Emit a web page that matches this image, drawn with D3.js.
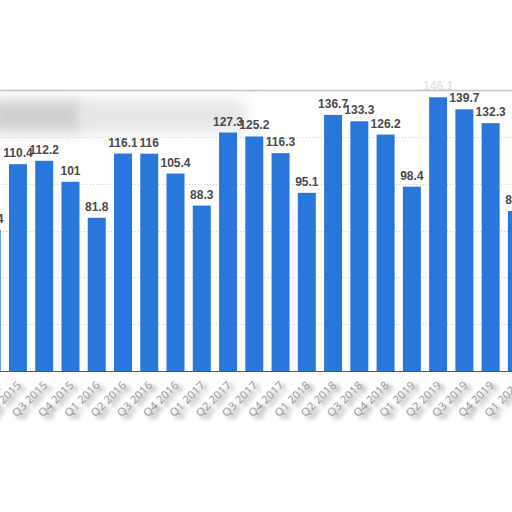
<!DOCTYPE html>
<html>
<head>
<meta charset="utf-8">
<script src="https://cdn.jsdelivr.net/npm/d3@7"></script>
<style>
  body { margin: 0; background: #fff; }
  svg { display: block; }
</style>
</head>
<body>
<svg id="chart" width="512" height="512"></svg>
<script>
// quarters and values (billions)
var quarters = ["Q1 2015", "Q2 2015", "Q3 2015", "Q4 2015",
                "Q1 2016", "Q2 2016", "Q3 2016", "Q4 2016",
                "Q1 2017", "Q2 2017", "Q3 2017", "Q4 2017",
                "Q1 2018", "Q2 2018", "Q3 2018", "Q4 2018",
                "Q1 2019", "Q2 2019", "Q3 2019", "Q4 2019",
                "Q1 2020"];
var values = [75.4, 110.4, 112.2, 101,
              81.8, 116.1, 116, 105.4,
              88.3, 127.3, 125.2, 116.3,
              95.1, 136.7, 133.3, 126.2,
              98.4, 146.1, 139.7, 132.3,
              85.4];
var yTicks = [25, 50, 75, 100, 125];

var svg = d3.select("#chart");
var defs = svg.append("defs");

var shadow = defs.append("filter").attr("id", "shadow")
    .attr("x", "-20%").attr("y", "-50%").attr("width", "140%").attr("height", "250%");
shadow.append("feGaussianBlur").attr("in", "SourceAlpha").attr("stdDeviation", 2.2).attr("result", "b");
shadow.append("feOffset").attr("in", "b").attr("dx", 1).attr("dy", 5).attr("result", "o");
shadow.append("feComponentTransfer").attr("in", "o").attr("result", "s")
    .append("feFuncA").attr("type", "linear").attr("slope", 0.6);
var merge = shadow.append("feMerge");
merge.append("feMergeNode").attr("in", "s");
merge.append("feMergeNode").attr("in", "SourceGraphic");

var blur = defs.append("filter").attr("id", "blur")
    .attr("x", "-30%").attr("y", "-60%").attr("width", "160%").attr("height", "220%");
blur.append("feGaussianBlur").attr("stdDeviation", 7);

var plotTop = 90, plotBottom = 371;
var step = 26.26;
var x0 = -17.3 - (step - 18) / 2;

var x = d3.scaleBand()
    .domain(quarters)
    .range([x0, x0 + step * quarters.length])
    .paddingInner(0.315)
    .paddingOuter(0.1575);

var y = d3.scaleLinear()
    .domain([0, 150])
    .range([plotBottom, plotTop]);

// grid
svg.append("g")
  .selectAll("line")
  .data(yTicks)
  .join("line")
    .attr("x1", 0).attr("x2", 512)
    .attr("y1", function(d) { return Math.round(y(d)) + 0.5; })
    .attr("y2", function(d) { return Math.round(y(d)) + 0.5; })
    .attr("stroke", "#cfcfcf")
    .attr("stroke-dasharray", "1,2");

// blurred patch top left
svg.append("rect")
    .attr("x", -10).attr("y", 100).attr("width", 95).attr("height", 32)
    .attr("fill", "#cfcfcf").attr("filter", "url(#blur)");
svg.append("rect")
    .attr("x", 80).attr("y", 100).attr("width", 165).attr("height", 32)
    .attr("fill", "#e6e6e6").attr("filter", "url(#blur)");

// bars
svg.append("g")
  .selectAll("rect")
  .data(values)
  .join("rect")
    .attr("x", function(d, i) { return x(quarters[i]); })
    .attr("y", function(d) { return y(d); })
    .attr("width", x.bandwidth())
    .attr("height", function(d) { return plotBottom - y(d); })
    .attr("fill", "#2a77db");

// value labels
svg.append("g")
  .selectAll("text")
  .data(values)
  .join("text")
    .attr("x", function(d, i) { return x(quarters[i]) + x.bandwidth() / 2; })
    .attr("y", function(d) { return y(d) - 7; })
    .attr("text-anchor", "middle")
    .attr("font-family", "Liberation Sans, Arial, sans-serif")
    .attr("font-weight", "bold")
    .attr("font-size", 12)
    .attr("fill", "#4a4a4a")
    .text(function(d) { return d; });

// white fade above plot
svg.append("rect")
    .attr("x", 0).attr("y", 0).attr("width", 512).attr("height", plotTop)
    .attr("fill", "#fff").attr("opacity", 0.85);
svg.append("line")
    .attr("x1", 0).attr("x2", 512)
    .attr("y1", plotTop + 0.5).attr("y2", plotTop + 0.5)
    .attr("stroke", "#c4c4c4").attr("stroke-width", 1.5);

// x axis
var xAxis = svg.append("g")
    .attr("transform", "translate(0," + plotBottom + ")")
    .call(d3.axisBottom(x).tickSize(0).tickPadding(0));
xAxis.select(".domain").attr("stroke", "#555").attr("d", "M0,0.5H512");
xAxis.selectAll("text")
    .attr("font-family", "Open Sans, sans-serif")
    .attr("font-size", 11.5)
    .attr("fill", "#8a8a8a")
    .attr("text-anchor", "end")
    .attr("dy", 0)
    .attr("transform", "translate(4,15) rotate(-45)")
    .attr("filter", "url(#shadow)");
</script>
</body>
</html>
